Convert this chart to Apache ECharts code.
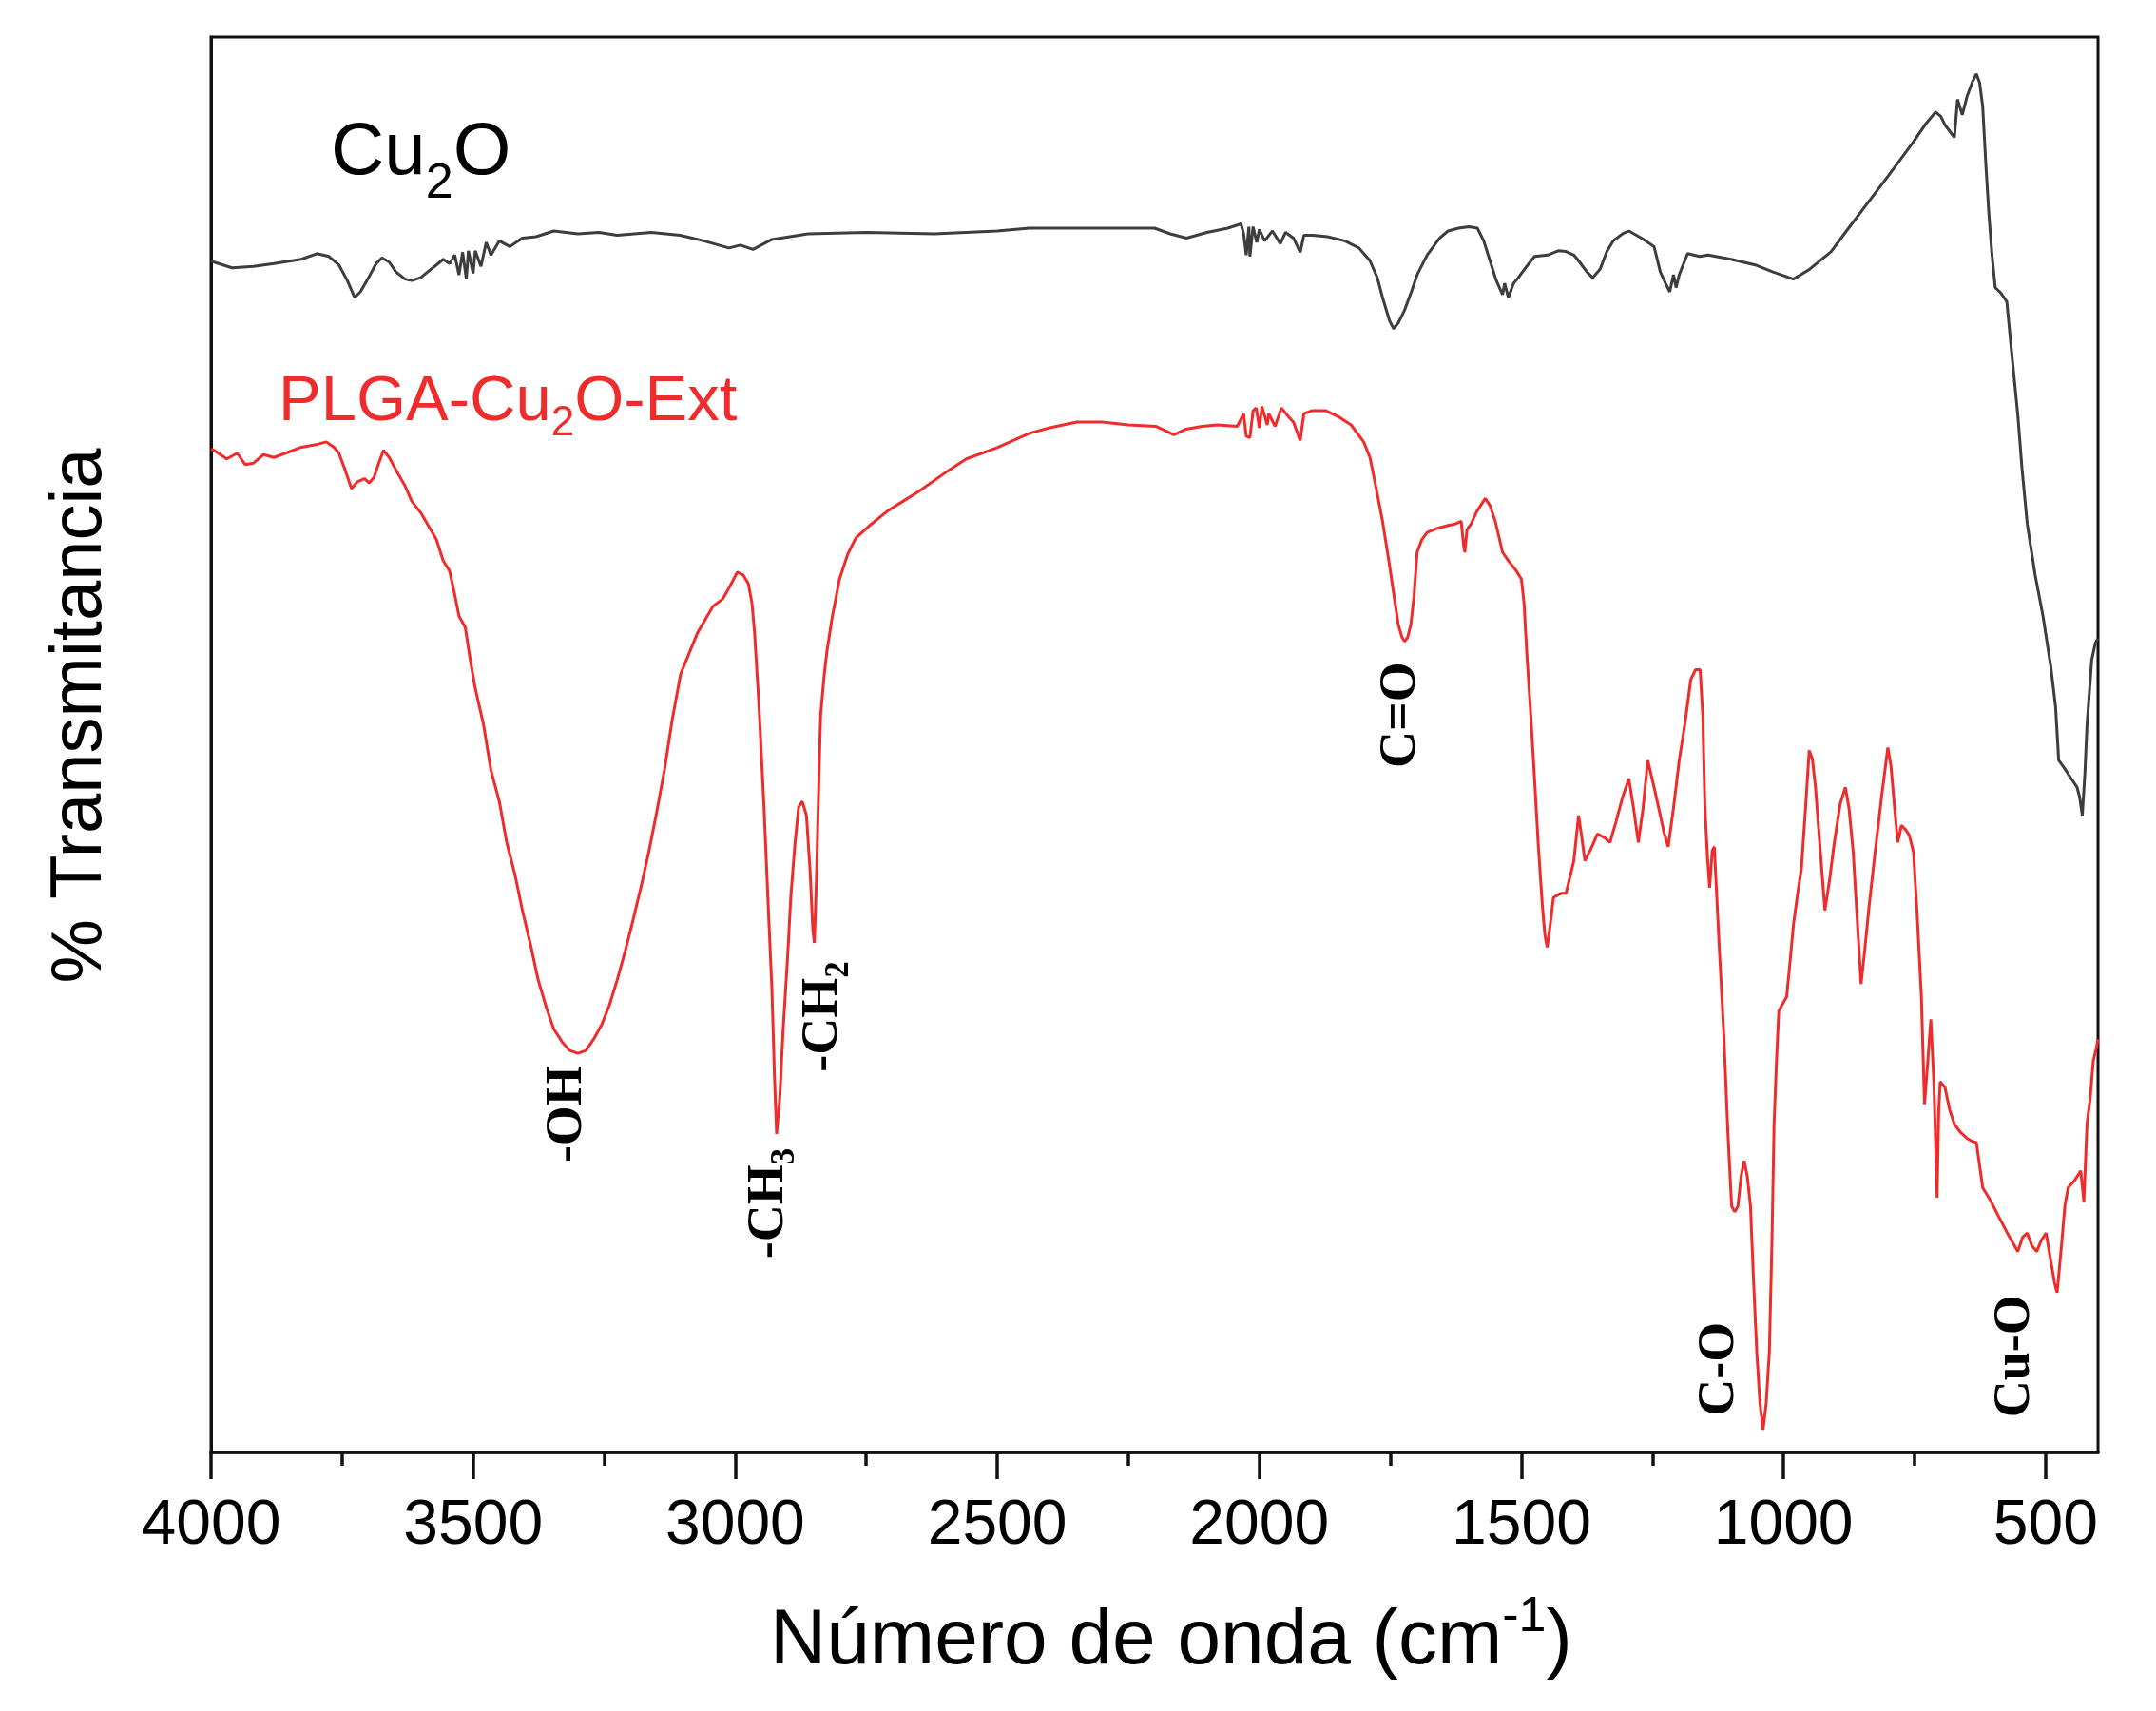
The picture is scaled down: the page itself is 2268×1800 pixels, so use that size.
<!DOCTYPE html>
<html>
<head>
<meta charset="utf-8">
<script src="https://cdn.jsdelivr.net/npm/echarts@6/dist/echarts.min.js"></script>
<style>
  html, body { margin: 0; padding: 0; background: #fff; }
  #chart { width: 2268px; height: 1800px; }
</style>
</head>
<body>
<div id="chart"></div>
<script>
/* Cu2O: número de onda / transmitancia (unidades arbitrarias) */
const cu2oWave = [4000, 3994, 3960, 3919, 3880, 3828, 3798, 3775, 3756, 3740, 3726, 3715, 3701, 3685, 3674, 3660, 3647, 3630, 3617, 3600,
  3587, 3570, 3557, 3545, 3535, 3527, 3520, 3513, 3509, 3500, 3496, 3485, 3475, 3466, 3450, 3430, 3406, 3380, 3346, 3300,
  3260, 3225, 3160, 3105, 3060, 3012, 2990, 2966, 2930, 2861, 2750, 2620, 2500, 2439, 2300, 2200, 2170, 2139, 2100, 2060,
  2035, 2030, 2025, 2020, 2018, 2012, 2005, 2000, 1990, 1975, 1960, 1950, 1935, 1922, 1915, 1898, 1870, 1837, 1810, 1789,
  1775, 1765, 1752, 1744, 1735, 1723, 1710, 1699, 1680, 1656, 1640, 1620, 1600, 1584, 1572, 1560, 1548, 1536, 1532, 1525,
  1515, 1506, 1490, 1475, 1450, 1430, 1415, 1400, 1391, 1375, 1364, 1350, 1337, 1325, 1307, 1295, 1271, 1247, 1235, 1225,
  1217, 1210, 1205, 1199, 1183, 1160, 1144, 1100, 1054, 1020, 981, 950, 909, 880, 843, 800, 752, 730, 710, 700,
  692, 680, 674, 668, 659, 650, 640, 632, 626, 620, 614, 608, 602, 596, 585, 574, 565, 553, 545, 535,
  520, 505, 490, 481, 475, 465, 451, 440, 435, 430, 425, 421, 412, 405, 400]
const cu2oValue = [84.2, 84.1, 83.7, 83.8, 84.0, 84.3, 84.7, 84.5, 83.9, 82.8, 81.6, 82.0, 82.9, 84.0, 84.4, 84.1, 83.4, 82.9, 82.8, 83.0,
  83.4, 83.9, 84.3, 84.0, 84.6, 83.2, 84.8, 82.9, 84.9, 83.3, 84.9, 83.8, 85.5, 84.6, 85.6, 85.2, 85.8, 85.9, 86.3, 86.1,
  86.2, 86.0, 86.2, 86.0, 85.6, 85.1, 85.3, 85.0, 85.7, 86.1, 86.2, 86.1, 86.3, 86.5, 86.5, 86.5, 86.1, 85.8, 86.2, 86.5,
  86.8, 86.1, 84.6, 86.6, 84.5, 86.6, 85.5, 86.4, 85.6, 86.3, 85.4, 86.2, 85.8, 84.8, 86.0, 86.0, 85.9, 85.6, 85.1, 84.2,
  83.0, 81.6, 80.0, 79.4, 79.8, 80.7, 82.0, 83.2, 84.6, 85.8, 86.3, 86.5, 86.6, 86.5, 85.6, 84.2, 82.8, 81.8, 82.6, 81.6,
  82.6, 83.0, 83.8, 84.5, 84.6, 84.9, 84.85, 84.6, 84.2, 83.4, 83.0, 83.6, 84.85, 85.6, 86.1, 86.3, 85.8, 85.2, 83.4, 82.6,
  82.0, 83.2, 82.3, 83.2, 84.7, 84.5, 84.6, 84.3, 83.9, 83.4, 82.9, 83.6, 84.85, 86.3, 88.1, 90.2, 92.6, 93.8, 94.7, 94.4,
  93.8, 93.2, 92.9, 95.6, 94.5, 95.8, 96.8, 97.4, 96.8, 95.1, 91.0, 87.4, 84.5, 82.3, 81.9, 81.3, 77.8, 73.3, 69.5, 65.6,
  62.0, 59.1, 55.5, 52.7, 48.9, 48.4, 47.6, 47.0, 46.3, 45.0, 48.0, 51.4, 56.0, 57.2, 57.5]

/* PLGA-Cu2O-Ext */
const plgaWave = [4000, 3994, 3970, 3950, 3935, 3919, 3900, 3880, 3858, 3830, 3800, 3780, 3765, 3756, 3745, 3732, 3720, 3707, 3698, 3689,
  3680, 3671, 3660, 3647, 3630, 3617, 3600, 3581, 3570, 3557, 3545, 3535, 3527, 3515, 3505, 3496, 3480, 3466, 3450, 3436,
  3420, 3406, 3390, 3376, 3360, 3346, 3330, 3316, 3300, 3285, 3270, 3255, 3240, 3225, 3210, 3195, 3180, 3165, 3150, 3135,
  3120, 3104, 3072, 3042, 3024, 3010, 2996, 2985, 2975, 2968, 2963, 2955, 2945, 2938, 2930, 2925, 2921, 2915, 2909, 2900,
  2894, 2886, 2879, 2872, 2864, 2857, 2852, 2849, 2845, 2840, 2837, 2830, 2825, 2815, 2801, 2785, 2770, 2740, 2710, 2680,
  2650, 2600, 2559, 2500, 2439, 2400, 2348, 2300, 2250, 2198, 2180, 2163, 2140, 2109, 2080, 2042, 2030, 2025, 2018, 2012,
  2006, 2000, 1995, 1985, 1982, 1970, 1958, 1945, 1935, 1922, 1915, 1900, 1873, 1850, 1825, 1801, 1789, 1777, 1765, 1753,
  1745, 1735, 1728, 1723, 1717, 1711, 1705, 1699, 1690, 1680, 1660, 1640, 1626, 1615, 1610, 1608, 1604, 1596, 1585, 1569,
  1560, 1550, 1536, 1525, 1510, 1500, 1495, 1490, 1482, 1475, 1468, 1460, 1455, 1451, 1446, 1439, 1425, 1415, 1400, 1391,
  1385, 1379, 1368, 1355, 1340, 1331, 1320, 1307, 1295, 1286, 1277, 1268, 1259, 1247, 1235, 1228, 1220, 1210, 1199, 1188,
  1177, 1168, 1159, 1154, 1150, 1145, 1141, 1136, 1132, 1123, 1114, 1106, 1099, 1093, 1087, 1081, 1075, 1069, 1063, 1057,
  1051, 1045, 1039, 1033, 1027, 1022, 1018, 1013, 1009, 1000, 994, 988, 981, 973, 966, 958, 951, 945, 939, 930,
  921, 912, 903, 892, 882, 875, 867, 860, 852, 845, 837, 825, 813, 801, 795, 788, 782, 775, 767, 760,
  752, 745, 737, 731, 725, 719, 713, 707, 704, 701, 692, 683, 674, 662, 650, 641, 632, 626, 620, 605,
  590, 570, 553, 544, 535, 526, 517, 508, 499, 490, 483, 478, 470, 463, 457, 445, 433, 427, 421, 415,
  409, 403, 400]
const plgaValue = [70.9, 70.8, 70.2, 70.6, 69.8, 69.9, 70.5, 70.3, 70.6, 71.0, 71.2, 71.4, 71.0, 70.6, 69.5, 68.1, 68.6, 68.8, 68.5, 68.9,
  69.9, 70.8, 70.3, 69.4, 68.3, 67.2, 66.4, 65.2, 64.5, 63.0, 62.3, 60.6, 59.1, 58.3, 55.9, 54.0, 51.4, 48.2, 46.0, 43.1,
  40.8, 38.3, 35.8, 33.4, 31.4, 29.9, 29.0, 28.4, 28.2, 28.4, 29.2, 30.2, 31.6, 33.4, 35.4, 37.6, 39.9, 42.4, 45.2, 48.2,
  51.8, 55.0, 57.9, 59.8, 60.3, 61.2, 62.2, 62.0, 61.4, 60.0, 57.9, 53.0, 45.6, 39.5, 32.8, 26.5, 22.5, 25.0, 29.6, 35.0,
  39.2, 43.0, 45.6, 46.0, 45.0, 41.0, 37.0, 36.0, 40.5, 48.0, 52.1, 55.0, 56.6, 59.0, 61.7, 63.5, 64.6, 65.6, 66.5, 67.2,
  67.9, 69.2, 70.2, 71.0, 72.0, 72.4, 72.8, 72.8, 72.6, 72.5, 72.2, 71.9, 72.3, 72.5, 72.6, 72.5, 73.4, 71.8, 71.7, 73.6,
  73.8, 72.4, 73.9, 72.6, 73.4, 72.5, 73.8, 73.2, 72.8, 71.5, 73.4, 73.6, 73.6, 73.2, 72.6, 71.4, 70.3, 68.1, 65.8, 63.0,
  61.0, 58.5, 57.6, 57.3, 57.6, 58.5, 60.5, 63.6, 64.5, 65.0, 65.3, 65.5, 65.6, 65.8, 64.0, 63.6, 65.2, 65.6, 66.5, 67.4,
  66.9, 65.8, 63.6, 63.0, 62.3, 61.7, 60.0, 56.6, 52.0, 47.6, 43.0, 38.6, 36.5, 35.7, 37.0, 39.2, 39.5, 39.5, 41.8, 45.0,
  43.5, 41.8, 42.6, 43.7, 43.4, 43.1, 44.5, 46.3, 47.6, 45.5, 43.1, 45.5, 48.9, 47.0, 45.0, 43.8, 42.8, 45.5, 48.9, 51.5,
  54.6, 55.3, 55.3, 52.0, 45.6, 42.0, 39.9, 42.5, 42.8, 36.0, 29.6, 22.5, 17.4, 17.0, 17.4, 19.5, 20.6, 19.5, 17.4, 12.0,
  7.1, 3.5, 1.6, 3.5, 7.1, 15.0, 23.2, 28.0, 31.2, 31.8, 32.2, 34.5, 37.3, 39.5, 41.2, 45.5, 49.6, 49.0, 47.0, 42.6,
  38.3, 40.5, 43.1, 45.8, 47.0, 45.5, 42.4, 38.0, 33.1, 35.5, 38.5, 42.5, 46.3, 49.8, 48.5, 45.5, 43.1, 44.3, 44.0, 43.6,
  42.4, 38.0, 32.2, 24.6, 27.5, 30.6, 26.0, 18.0, 24.0, 26.2, 25.8, 24.2, 23.2, 22.6, 22.2, 22.0, 21.9, 20.3, 18.7, 17.8,
  16.7, 15.3, 14.2, 15.2, 15.5, 14.6, 14.2, 15.0, 15.5, 13.5, 12.0, 11.3, 14.5, 17.5, 18.7, 19.2, 19.9, 17.7, 23.2, 25.0,
  27.7, 28.6, 29.2]

/* ticks del eje x */
const majorTicks = [500, 1000, 1500, 2000, 2500, 3000, 3500, 4000]
const minorTicks = [750, 1250, 1750, 2250, 2750, 3250, 3750]

/* bandas asignadas: texto, número de onda, altura */
const bandLabels = ['{b|-OH}', '{b|-CH}{s|3}', '{b|-CH}{s|2}', '{b|C=O}', '{b|C-O}', '{b|Cu-O}']
const bandWave = [3319, 2935, 2832, 1730, 1121, 558]
const bandValue = [23.9, 17.6, 30.8, 52.1, 5.9, 6.8]

const BLACK = '#111'
const GRAY = '#3d3d3d'
const RED = '#ef2b2b'
const SANS = 'Liberation Sans, Arial, sans-serif'
const SERIF = 'Liberation Serif, Times New Roman, serif'

const chart = echarts.init(document.getElementById('chart'))

const xBase = {
    type: 'value',
    min: 400,
    max: 4000,
    inverse: true,
    position: 'bottom',
    splitLine: { show: false }
}

chart.setOption({
    animation: false,
    backgroundColor: '#fff',
    grid: {
        left: 222, right: 61, top: 39, bottom: 272,
        show: true, borderColor: BLACK, borderWidth: 3
    },
    xAxis: [
        Object.assign({}, xBase, {
            axisLine: { show: true, lineStyle: { color: BLACK, width: 3.5 } },
            axisTick: { show: true, inside: false, length: 28, customValues: majorTicks, lineStyle: { color: BLACK, width: 3.5 } },
            axisLabel: {
                show: true, customValues: majorTicks, margin: 45, fontSize: 66, fontFamily: SANS, color: '#000',
                formatter: (v) => String(v)
            }
        }),
        Object.assign({}, xBase, {
            axisLine: { show: false },
            axisTick: { show: true, inside: false, length: 14, customValues: minorTicks, lineStyle: { color: BLACK, width: 3.5 } },
            axisLabel: { show: false }
        })
    ],
    yAxis: {
        type: 'value',
        min: 0,
        max: 100,
        axisLine: { show: true, lineStyle: { color: BLACK, width: 3 } },
        axisTick: { show: false },
        axisLabel: { show: false },
        splitLine: { show: false }
    },
    series: [
        {
            name: 'Cu2O',
            type: 'line',
            showSymbol: false,
            lineStyle: { color: GRAY, width: 3 },
            data: cu2oWave.map((w, i) => [w, cu2oValue[i]])
        },
        {
            name: 'PLGA-Cu2O-Ext',
            type: 'line',
            showSymbol: false,
            lineStyle: { color: RED, width: 3 },
            data: plgaWave.map((w, i) => [w, plgaValue[i]]),
            markPoint: {
                symbol: 'circle',
                symbolSize: 1,
                itemStyle: { color: 'rgba(0,0,0,0)' },
                silent: true,
                label: {
                    show: true,
                    position: 'inside',
                    rotate: 90,
                    rich: {
                        b: { fontFamily: SERIF, fontWeight: 'bold', fontSize: 54, lineHeight: 54, color: '#000', verticalAlign: 'top' },
                        s: { fontFamily: SERIF, fontWeight: 'bold', fontSize: 35, lineHeight: 35, color: '#000', verticalAlign: 'top', padding: [26, 0, 0, 0] }
                    }
                },
                data: bandLabels.map((t, i) => ({
                    coord: [bandWave[i], bandValue[i]],
                    label: { formatter: t }
                }))
            }
        }
    ],
    graphic: [
        {
            type: 'text', x: 348, y: 122,
            style: {
                text: '{m|Cu}{s|2}{m|O}', fill: '#000', align: 'left', verticalAlign: 'top',
                rich: {
                    m: { fontFamily: SANS, fontSize: 78, lineHeight: 78, verticalAlign: 'top', fill: '#000' },
                    s: { fontFamily: SANS, fontSize: 52, lineHeight: 52, verticalAlign: 'top', padding: [46, 0, 0, 0], fill: '#000' }
                }
            }
        },
        {
            type: 'text', x: 293, y: 390,
            style: {
                text: '{m|PLGA-Cu}{s|2}{m|O-Ext}', fill: RED, align: 'left', verticalAlign: 'top',
                rich: {
                    m: { fontFamily: SANS, fontSize: 67, lineHeight: 67, verticalAlign: 'top', fill: RED },
                    s: { fontFamily: SANS, fontSize: 44, lineHeight: 44, verticalAlign: 'top', padding: [34, 0, 0, 0], fill: RED }
                }
            }
        },
        {
            type: 'text', x: 810, y: 1676,
            style: {
                text: '{m|Número de onda (cm}{s|-1}{m|)}', fill: '#000', align: 'left', verticalAlign: 'top',
                rich: {
                    m: { fontFamily: SANS, fontSize: 82, lineHeight: 82, verticalAlign: 'top', padding: [10, 0, 0, 0], fill: '#000' },
                    s: { fontFamily: SANS, fontSize: 52, lineHeight: 52, verticalAlign: 'top', fill: '#000' }
                }
            }
        },
        {
            type: 'text', x: 85, y: 753, rotation: Math.PI / 2,
            style: {
                text: '% Transmitancia', fill: '#000', align: 'center', verticalAlign: 'middle',
                font: '76px ' + SANS
            }
        }
    ]
})
</script>
</body>
</html>
